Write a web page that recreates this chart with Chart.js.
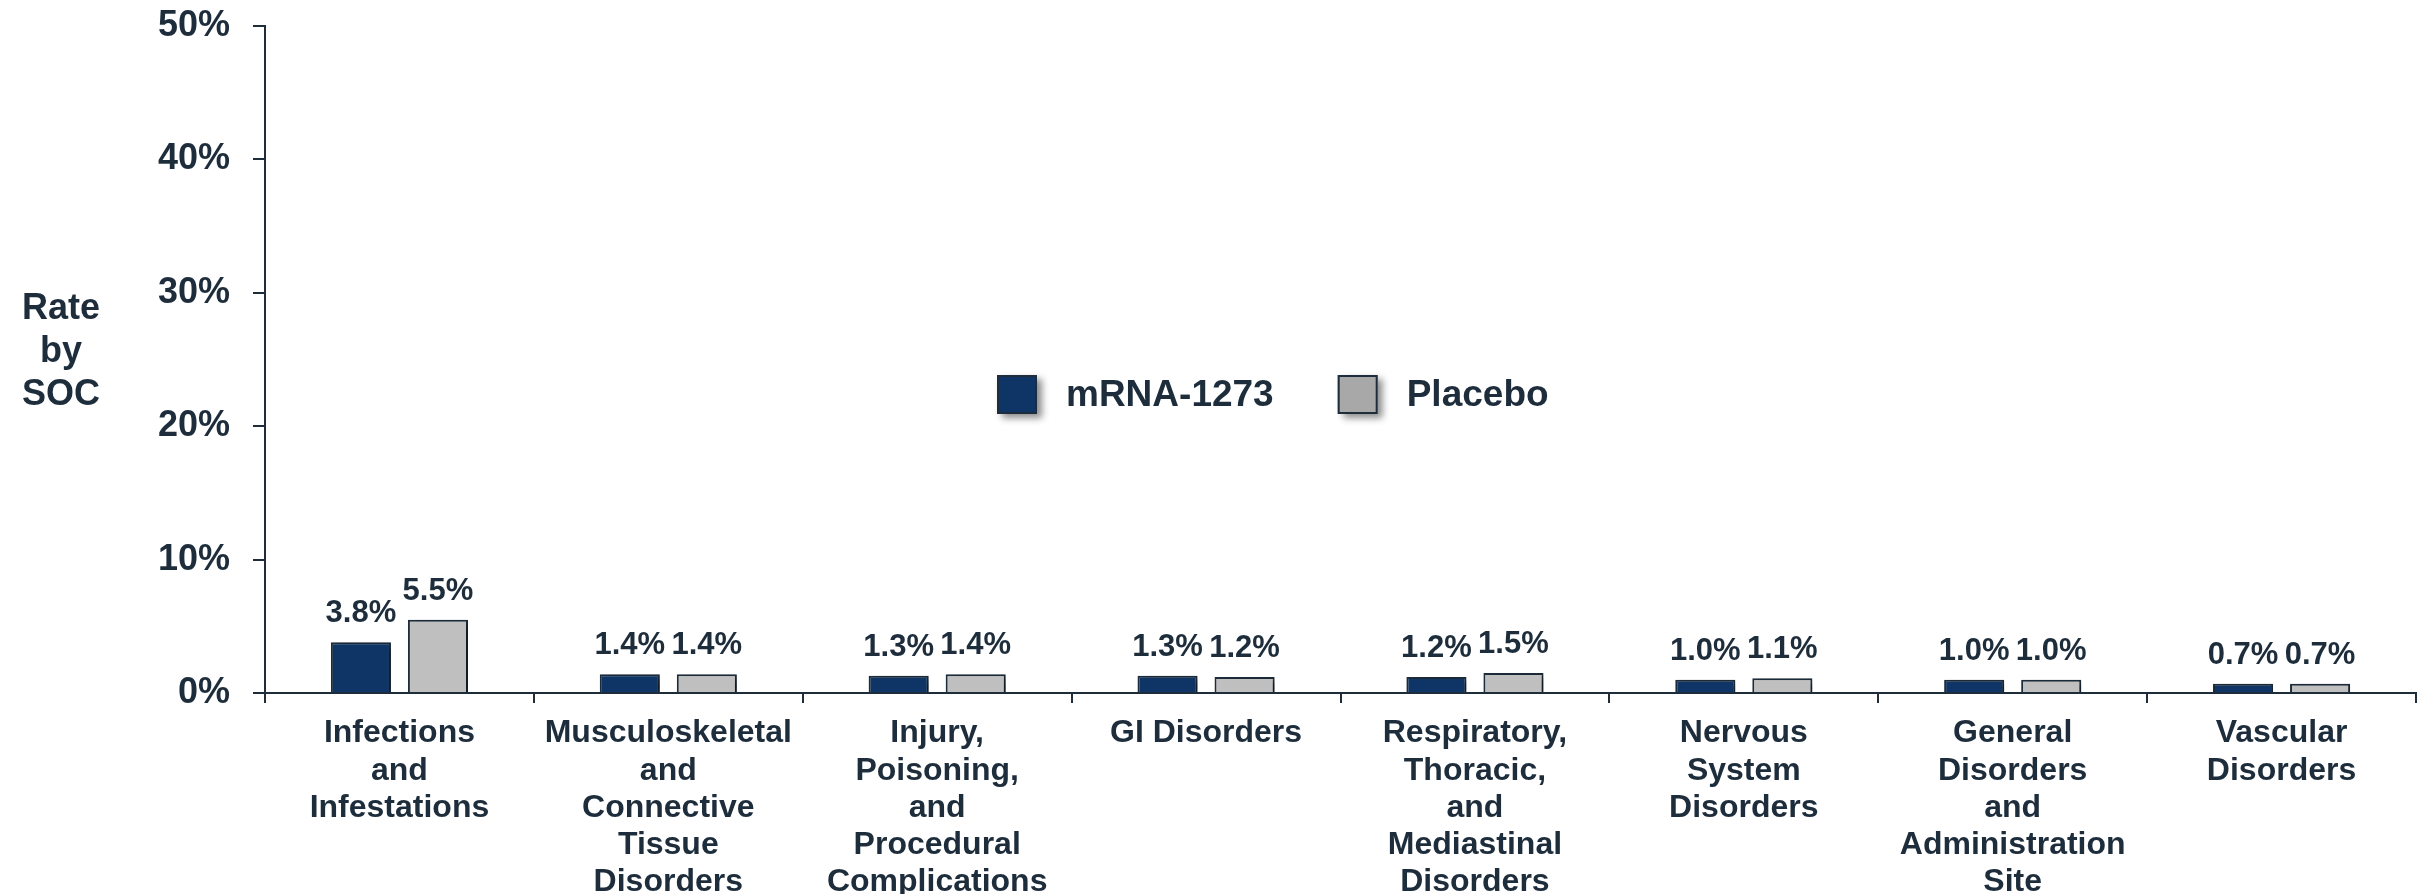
<!DOCTYPE html>
<html><head><meta charset="utf-8">
<script src="https://cdn.jsdelivr.net/npm/chart.js@4.4.0/dist/chart.umd.min.js"></script>
<style>html,body{margin:0;padding:0;background:#fff;overflow:hidden}#wrap{width:2425px;height:894px;position:relative}canvas{display:block}</style>
</head><body><div id="wrap"><canvas id="c" width="2425" height="894"></canvas></div>
<script>
const categories = [
  ["Infections","and","Infestations"],
  ["Musculoskeletal","and","Connective","Tissue","Disorders"],
  ["Injury,","Poisoning,","and","Procedural","Complications"],
  ["GI Disorders"],
  ["Respiratory,","Thoracic,","and","Mediastinal","Disorders"],
  ["Nervous","System","Disorders"],
  ["General","Disorders","and","Administration","Site"],
  ["Vascular","Disorders"]
];
const mrnaValues = [3.8, 1.4, 1.3, 1.3, 1.2, 1.0, 1.0, 0.7];
const placeboValues = [5.5, 1.4, 1.4, 1.2, 1.5, 1.1, 1.0, 0.7];
const yTicks = [0, 10, 20, 30, 40, 50];
const seriesNames = ["mRNA-1273", "Placebo"];
const yTitleLines = ["Rate", "by", "SOC"];

const TEXT = '#1e2d3b';
const FONT = '"Liberation Sans", Arial, Helvetica, sans-serif';
const NAVY = '#0f3566';
const GREY = '#bfbfbf';
const GREY_LEG = '#a8a8a8';

const shadowPlugin = {
  id: 'barShadow',
  beforeDatasetsDraw(chart) {
    const c = chart.ctx; c.save();
    c.shadowColor = 'rgba(0,0,0,0.45)'; c.shadowBlur = 7; c.shadowOffsetX = 5; c.shadowOffsetY = 3;
  },
  afterDatasetsDraw(chart) { chart.ctx.restore(); }
};

const labelPlugin = {
  id: 'valueLabels',
  afterDatasetsDraw(chart) {
    const c = chart.ctx; c.save();
    c.fillStyle = TEXT; c.font = 'bold 31px ' + FONT;
    c.textAlign = 'center'; c.textBaseline = 'alphabetic';
    chart.data.datasets.forEach((ds, i) => {
      chart.getDatasetMeta(i).data.forEach((bar, j) => {
        c.fillText(ds.data[j].toFixed(1) + '%', bar.x, bar.y - 20);
      });
    });
    c.restore();
  }
};

const extrasPlugin = {
  id: 'extras',
  afterDraw(chart) {
    const c = chart.ctx; c.save();
    // y-axis title (horizontal, multi-line)
    c.fillStyle = TEXT; c.font = 'bold 36px ' + FONT; c.textAlign = 'center'; c.textBaseline = 'alphabetic';
    yTitleLines.forEach((t, i) => c.fillText(t, 61, 319 + i * 43));
    // legend
    const fills = [NAVY, GREY_LEG];
    let x = 997; const top = 375, bw = 40, bh = 39;
    c.font = 'bold 37px ' + FONT; c.textAlign = 'left'; c.textBaseline = 'middle';
    seriesNames.forEach((name, i) => {
      c.save();
      c.shadowColor = 'rgba(0,0,0,0.45)'; c.shadowBlur = 7; c.shadowOffsetX = 5; c.shadowOffsetY = 4;
      c.fillStyle = fills[i]; c.fillRect(x, top, bw, bh);
      c.restore();
      c.strokeStyle = TEXT; c.lineWidth = 2; c.strokeRect(x + 1, top + 1, bw - 2, bh - 2);
      const tx = x + bw + 29;
      c.fillStyle = TEXT; c.fillText(name, tx, top + bh / 2 + 1);
      x = tx + c.measureText(name).width + 64;
    });
    c.restore();
  }
};

new Chart(document.getElementById('c'), {
  type: 'bar',
  data: {
    labels: categories,
    datasets: [
      { label: seriesNames[0], data: mrnaValues, backgroundColor: NAVY, borderColor: TEXT, borderWidth: 2, borderSkipped: 'start' },
      { label: seriesNames[1], data: placeboValues, backgroundColor: GREY, borderColor: TEXT, borderWidth: 2, borderSkipped: 'start' }
    ]
  },
  options: {
    responsive: false, animation: false, devicePixelRatio: 1,
    categoryPercentage: 0.573, barPercentage: 0.78,
    layout: { padding: { top: 26, right: 9, left: 0, bottom: 0 } },
    plugins: { legend: { display: false }, tooltip: { enabled: false } },
    scales: {
      x: {
        grid: { drawOnChartArea: false, drawTicks: true, tickLength: 10, color: TEXT, lineWidth: 2, offset: true },
        border: { color: TEXT, width: 2 },
        ticks: { color: TEXT, font: { family: FONT, size: 32, weight: 'bold', lineHeight: 1.16 }, padding: 12, maxRotation: 0, minRotation: 0, autoSkip: false },
        afterFit(s) { s.height = 201; s.paddingLeft = 0; s.paddingRight = 0; }
      },
      y: {
        min: 0, max: 50,
        afterBuildTicks(s) { s.ticks = yTicks.map(v => ({ value: v })); },
        ticks: { color: TEXT, font: { family: FONT, size: 36, weight: 'bold' }, padding: 23, callback: v => v + '%' },
        grid: { drawOnChartArea: false, drawTicks: true, tickLength: 12, color: TEXT, lineWidth: 2 },
        border: { color: TEXT, width: 2 },
        afterFit(s) { s.width = 265; s.paddingTop = 0; s.paddingBottom = 0; }
      }
    }
  },
  plugins: [shadowPlugin, labelPlugin, extrasPlugin]
});
</script>
</body></html>
